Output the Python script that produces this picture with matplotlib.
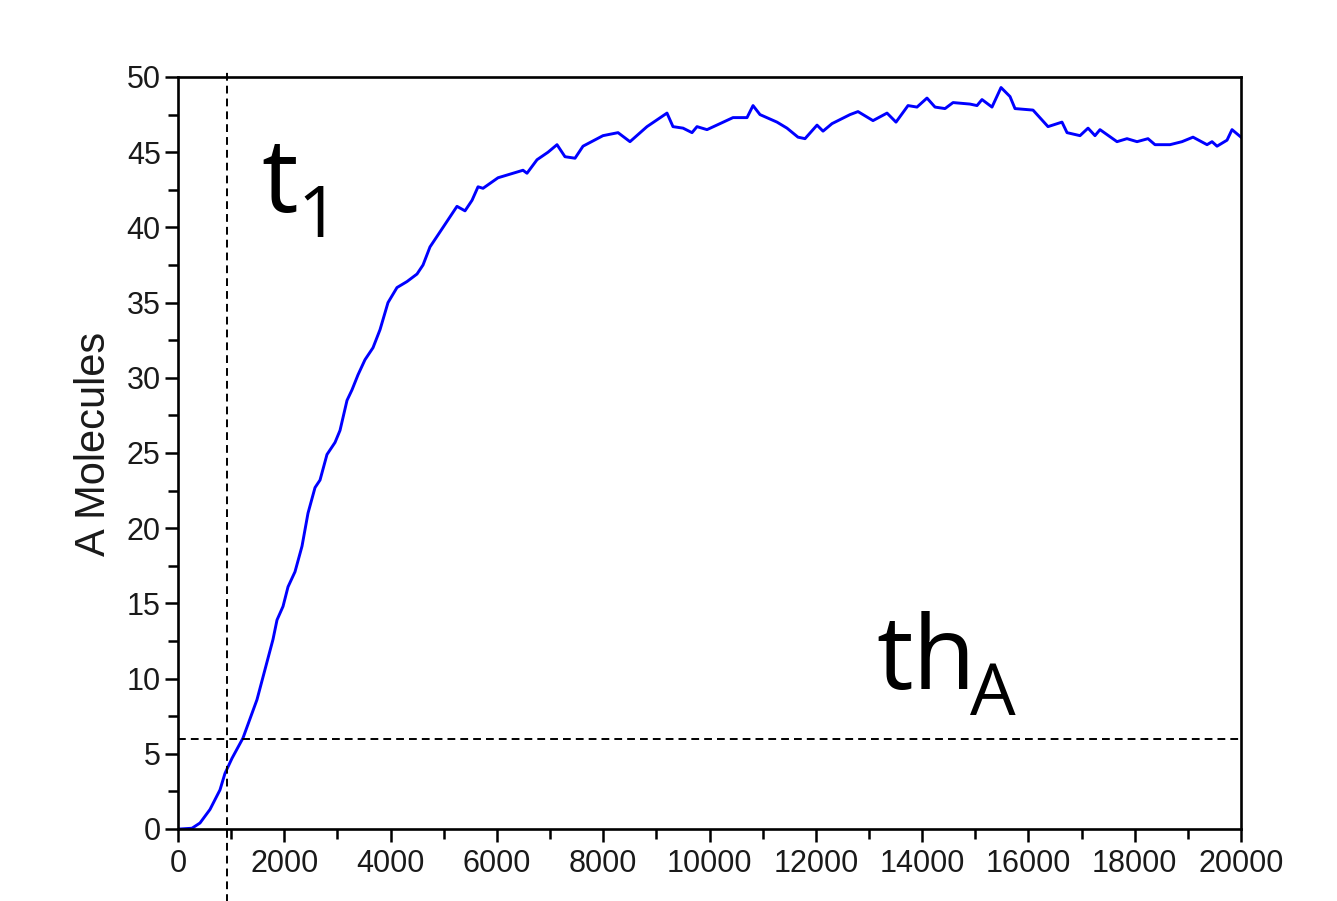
import matplotlib
matplotlib.use("Agg")
import matplotlib.pyplot as plt
from matplotlib.ticker import MultipleLocator

# time vs number of A molecules
time = [0, 38, 263, 414, 602, 790, 884, 1016, 1223, 1486, 1787, 1863, 1976,
        2070, 2201, 2333, 2446, 2578, 2672, 2803, 2954, 3048, 3180, 3274,
        3387, 3518, 3669, 3801, 3951, 4120, 4309, 4497, 4610, 4741, 4873,
        4986, 5249, 5400, 5532, 5645, 5739, 6021, 6491, 6566, 6755, 6962,
        7131, 7281, 7470, 7620, 7996, 8279, 8504, 8824, 9200, 9313, 9502,
        9671, 9765, 9953, 10198, 10442, 10706, 10819, 10950, 11270, 11458,
        11665, 11797, 12023, 12136, 12305, 12644, 12794, 13076, 13340, 13509,
        13735, 13904, 14092, 14243, 14431, 14582, 14901, 15033, 15127, 15315,
        15485, 15654, 15748, 16087, 16369, 16632, 16727, 16971, 17122, 17253,
        17347, 17667, 17855, 18044, 18250, 18382, 18664, 18890, 19097, 19361,
        19455, 19549, 19737, 19831, 20000]
molecules = [0, 0, 0.05, 0.4, 1.3, 2.6, 3.7, 4.7, 6.05, 8.6, 12.6, 13.9, 14.8,
             16.1, 17.1, 18.8, 21.0, 22.7, 23.2, 24.9, 25.7, 26.5, 28.5, 29.2,
             30.2, 31.2, 32.0, 33.2, 35.0, 36.0, 36.4, 36.9, 37.5, 38.7, 39.4,
             40.0, 41.4, 41.1, 41.8, 42.7, 42.6, 43.3, 43.8, 43.6, 44.5, 45.0,
             45.5, 44.7, 44.6, 45.4, 46.1, 46.3, 45.7, 46.7, 47.6, 46.7, 46.6,
             46.3, 46.7, 46.5, 46.9, 47.3, 47.3, 48.1, 47.5, 47.0, 46.6,
             46.0, 45.9, 46.8, 46.4, 46.9, 47.5, 47.7, 47.1, 47.6, 47.0,
             48.1, 48.0, 48.6, 48.0, 47.9, 48.3, 48.2, 48.1, 48.5, 48.0,
             49.3, 48.7, 47.9, 47.8, 46.7, 47.0, 46.3, 46.1, 46.6, 46.1,
             46.5, 45.7, 45.9, 45.7, 45.9, 45.5, 45.5, 45.7, 46.0, 45.5,
             45.7, 45.4, 45.8, 46.5, 46.0]

t1 = 930        # time marker
th_a = 6        # threshold on A

plt.rcParams['font.family'] = ['Liberation Sans', 'DejaVu Sans']

fig = plt.figure(figsize=(13.37, 9.01), dpi=100)
ax = fig.add_axes([178 / 1337, 1 - 829 / 901, 1063 / 1337, 752 / 901])

ax.plot(time, molecules, color='#0000ff', lw=2.1)

dash = (0, (4, 2.6))
ax.plot([0, 20000], [th_a, th_a], color='k', lw=1.4, linestyle=dash)
ax.plot([t1, t1], [-6, 50.3], color='k', lw=1.4, linestyle=dash,
        clip_on=False)

ax.set_xlim(0, 20000)
ax.set_ylim(0, 50)
ax.xaxis.set_major_locator(MultipleLocator(2000))
ax.xaxis.set_minor_locator(MultipleLocator(1000))
ax.yaxis.set_major_locator(MultipleLocator(5))
ax.yaxis.set_minor_locator(MultipleLocator(2.5))
ax.tick_params(which='major', direction='out', length=9.5, width=1.8,
               labelsize=22, labelcolor='#1a1a1a')
ax.tick_params(which='minor', direction='out', length=7.5, width=1.8)
ax.tick_params(axis='y', which='major', pad=3)
ax.tick_params(axis='x', which='major', pad=5)
for s in ax.spines.values():
    s.set_linewidth(1.9)

fig.text(94 / 1337, 1 - 444 / 901, "A Molecules", rotation=90,
         ha='center', va='center', fontsize=30, color='#1a1a1a')

# annotations
fig.text(261 / 1337, 1 - 212 / 901, "t", fontsize=74, family='Open Sans',
         ha='left', va='baseline')
fig.text(297 / 1337, 1 - 237 / 901, "1", fontsize=52, family='Open Sans',
         ha='left', va='baseline')
fig.text(876 / 1337, 1 - 689 / 901, "th", fontsize=74, family='Open Sans',
         ha='left', va='baseline')
fig.text(970 / 1337, 1 - 715 / 901, "A", fontsize=52, family='Open Sans',
         ha='left', va='baseline')

plt.savefig("out.png")
